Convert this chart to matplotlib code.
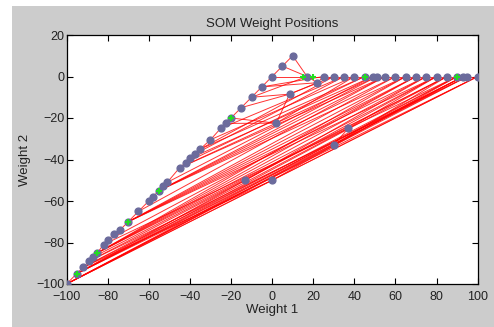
import matplotlib
matplotlib.use("Agg")
import matplotlib.pyplot as plt
from matplotlib.patches import Rectangle

# Neuron weight positions (Weight 1, Weight 2)
neuron_w1 = [-100, -95, -92, -89, -87, -85, -82, -80, -77, -74,
             -70, -65, -60, -58, -55, -53, -51, -45, -42, -40,
             -37.5, -35, -30, -25, -22.5, -20, -15, -10, -5, 0,
             17, 25, 30, 35, 40, 45, 49, 51, 55, 60,
             65, 70, 75, 80, 85, 90, 93, 95, 100,
             5, 10, 8.5, 2, 22, -13, 0, 37, 30]
neuron_w2 = [-100, -95, -92, -89, -87, -85, -81, -79, -76, -74,
             -70, -65, -60, -58, -55, -53, -51, -44, -41.5, -39.5,
             -37.3, -35, -30.5, -25, -22.6, -20, -15, -10, -5, 0,
             0, 0, 0, 0, 0, 0, 0, 0, 0, 0,
             0, 0, 0, 0, 0, 0, 0, 0, 0,
             5, 10, -8.5, -22.5, -3, -50, -50, -25, -33]

# Neighbour links (neuron index pairs)
links = [
    # diagonal chain
    (0, 1), (1, 2), (2, 3), (3, 4), (4, 5), (5, 6), (6, 7), (7, 8), (8, 9),
    (9, 10), (10, 11), (11, 12), (12, 13), (13, 14), (14, 15), (15, 16),
    (16, 17), (17, 18), (18, 19), (19, 20), (20, 21), (21, 22), (22, 23),
    (23, 24), (24, 25), (25, 26), (26, 27), (27, 28), (28, 29),
    (29, 49), (49, 50), (50, 30), (49, 30),
    # horizontal chain
    (29, 30), (30, 31), (31, 32), (32, 33), (33, 34), (34, 35), (35, 36),
    (36, 37), (37, 38), (38, 39), (39, 40), (40, 41), (41, 42), (42, 43),
    (43, 44), (44, 45), (45, 46), (46, 47), (47, 48), (30, 53), (53, 31),
    # upper fan
    (28, 31), (28, 53), (27, 51), (27, 30), (26, 51), (25, 52), (24, 52),
    (52, 51), (51, 53), (51, 32), (52, 34), (23, 33), (22, 34), (21, 35),
    (21, 32), (19, 36), (17, 37), (17, 38), (18, 35), (20, 33),
    # middle fans
    (14, 39), (14, 40), (14, 37), (14, 38), (16, 36),
    (10, 41), (10, 42), (10, 43), (10, 39), (10, 40), (11, 38),
    (5, 40), (5, 41), (5, 42), (5, 44), (5, 43), (6, 45), (7, 41),
    # lower fans
    (0, 48), (0, 47), (0, 46), (0, 45), (0, 55), (55, 48), (0, 57),
    (57, 46), (57, 44), (57, 56), (56, 43), (2, 56),
    (1, 48), (1, 47), (1, 46), (1, 45), (1, 44), (1, 54), (54, 42),
    (54, 43), (3, 54), (2, 55), (55, 45), (3, 47), (4, 44), (2, 46),
]

# Input vectors
input_w1 = [-95, -85, -70, -55, -20, 15, 20, 45, 90]
input_w2 = [-95, -85, -70, -55, -20, 0, 0, 0, 0]

x_ticks = [-100, -80, -60, -40, -20, 0, 20, 40, 60, 80, 100]
y_ticks = [-100, -80, -60, -40, -20, 0, 20]

plt.rcParams['font.family'] = ['Liberation Sans', 'DejaVu Sans']

fig = plt.figure(figsize=(4.94, 3.27), dpi=100, facecolor='white')
fig.patches.append(Rectangle((12 / 494, 0), 1 - 12 / 494, 1 - 6 / 327,
                             transform=fig.transFigure, facecolor='#cccccc',
                             edgecolor='none', zorder=-10))
ax = fig.add_axes([66.5 / 494, 43 / 327, 411.2 / 494, 249 / 327])
ax.set_facecolor('white')

for a, b in links:
    ax.plot([neuron_w1[a], neuron_w1[b]], [neuron_w2[a], neuron_w2[b]],
            color='red', lw=0.7, alpha=0.8, zorder=2)
ax.plot(neuron_w1, neuron_w2, linestyle='none', marker='o', markersize=4.9,
        color='#6b6b9c', markeredgecolor='#6b6b9c', zorder=3)
ax.plot(input_w1, input_w2, linestyle='none', marker='+', markersize=4,
        markeredgewidth=1.5, color='#22dd22', zorder=4)

ax.set_xlim(-100, 100)
ax.set_ylim(-100, 20)
ax.set_xticks(x_ticks)
ax.set_yticks(y_ticks)
ax.tick_params(direction='in', top=True, right=True, length=4, width=0.8,
               labelsize=9, colors='black', labelcolor='#222222')
ax.tick_params(axis='x', pad=5)
ax.tick_params(axis='y', pad=1.5)
for s in ax.spines.values():
    s.set_linewidth(0.9)
ax.set_title('SOM Weight Positions', fontsize=9.5, color='#222222', pad=6)
ax.set_xlabel('Weight 1', fontsize=9.5, color='#222222', labelpad=1)
ax.set_ylabel('Weight 2', fontsize=9.5, color='#222222', labelpad=4)

fig.savefig('out.png', dpi=100, facecolor=fig.get_facecolor())
